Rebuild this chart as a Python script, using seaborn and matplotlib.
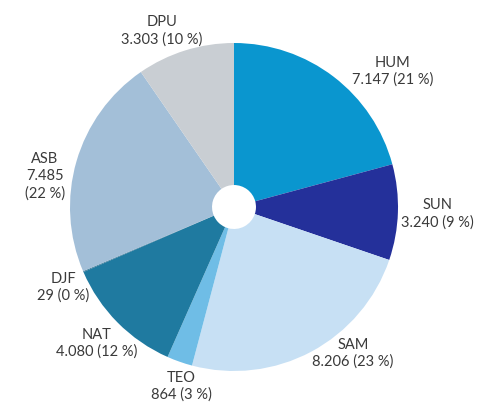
import matplotlib
matplotlib.use("Agg")
import matplotlib.pyplot as plt
import numpy as np
import seaborn as sns

# Daten (im Uhrzeigersinn ab 12 Uhr)
categories = ["HUM", "SUN", "SAM", "TEO", "NAT", "DJF", "ASB", "DPU"]
values = [7147, 3240, 8206, 864, 4080, 29, 7485, 3303]
value_labels = ["7.147 (21 %)", "3.240 (9 %)", "8.206 (23 %)", "864 (3 %)",
                "4.080 (12 %)", "29 (0 %)", "7.485\n(22 %)", "3.303 (10 %)"]

colors = ["#0a96cf", "#24309a", "#c7e0f4", "#6fbde6",
          "#1f7aa0", "#2a6f90", "#a3bfd8", "#c9ced3"]
# Abstand / Winkelkorrektur der Beschriftungen
label_dist = [1.27, 1.24, 1.15, 1.14, 1.18, 1.15, 1.17, 1.16]
label_rot = [-12, 0, 11, 3, 0, 2, 7, 5]

sns.set_theme(style="white")
plt.rcParams["font.family"] = ["Lato", "DejaVu Sans"]

fig = plt.figure(figsize=(4.78, 4.05), dpi=100)
ax = fig.add_axes([0, 0, 1, 1])

wedges, _ = ax.pie(values, colors=colors, startangle=90, counterclock=False,
                   wedgeprops=dict(width=0.866, linewidth=0))

for w, name, txt, d, rot in zip(wedges, categories, value_labels, label_dist, label_rot):
    ang = np.deg2rad((w.theta1 + w.theta2) / 2 + rot)
    ax.text(d * np.cos(ang), d * np.sin(ang), f"{name}\n{txt}",
            ha="center", va="center", fontsize=10.5, color="#3a3a3a",
            linespacing=1.25)

# Pixelgenaue Platzierung des Kreises
r_px, cx, cy = 164, 234, 207
ax.set_xlim(-cx / r_px, (478 - cx) / r_px)
ax.set_ylim(-(405 - cy) / r_px, cy / r_px)
ax.set_aspect("auto")
ax.axis("off")

fig.savefig("out.png", dpi=100)
